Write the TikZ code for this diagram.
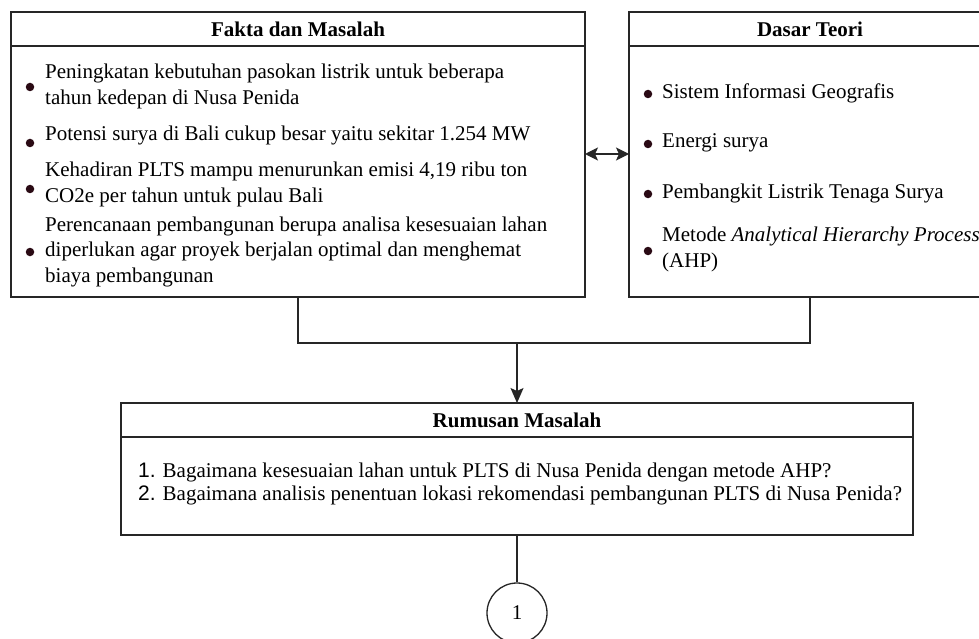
\documentclass[tikz,border=0pt]{standalone}
\usepackage{fontspec}
\setmainfont{Liberation Serif}
\newfontfamily\numfont{Liberation Sans}
\usetikzlibrary{arrows.meta}
\definecolor{bulletc}{HTML}{2A0A14}
\tikzset{
  box/.style={draw=black!85, line width=1.3pt},
  conn/.style={draw=black!85, line width=1.3pt},
  arr/.style={conn, -{Stealth[length=15pt,width=13pt,inset=3pt]}},
  darr/.style={conn, {Stealth[length=13pt,width=13pt,inset=3pt]}-{Stealth[length=13pt,width=13pt,inset=3pt]}},
  title/.style={font=\fontsize{21}{24}\selectfont\bfseries, inner sep=0pt},
  item/.style={font=\fontsize{21}{25.5}\selectfont, anchor=west, align=left, inner sep=0pt},
  bul/.style={circle, fill=bulletc, inner sep=0pt, minimum size=8.5pt},
  conn1/.style={circle, draw=black!85, line width=1.3pt, minimum size=60pt, inner sep=0pt, font=\fontsize{21}{24}\selectfont}
}
\begin{document}
\begin{tikzpicture}[x=1pt,y=-1pt]
\clip (0,0) rectangle (979,639);
\fill[white] (0,0) rectangle (979,639);
% Fakta box
\draw[box] (11,12) rectangle (585,297);
\draw[box] (11,46) -- (585,46);
\node[title] (fakta) at (298,29) {Fakta dan Masalah};
\coordinate (faktaR) at (585,154);
\coordinate (faktaB) at (298,297);
\node[item] (f1) at (45,86.5) {Peningkatan kebutuhan pasokan listrik untuk beberapa\\tahun kedepan di Nusa Penida};
\node[item] (f2) at (45,135) {Potensi surya di Bali cukup besar yaitu sekitar 1.254 MW};
\node[item] (f3) at (45,184.5) {Kehadiran PLTS mampu menurunkan emisi 4,19 ribu ton\\CO2e per tahun untuk pulau Bali};
\node[item] (f4) at (45,251.5) {Perencanaan pembangunan berupa analisa kesesuaian lahan\\diperlukan agar proyek berjalan optimal dan menghemat\\biaya pembangunan};
\node[bul] (b1) at (30,87) {};
\node[bul] (b2) at (30,143) {};
\node[bul] (b3) at (30,189) {};
\node[bul] (b4) at (30,252) {};
% Dasar box
\draw[box] (629,12) rectangle (992,297);
\draw[box] (629,46) -- (992,46);
\node[title] (dasar) at (810,29) {Dasar Teori};
\coordinate (dasarL) at (629,154);
\coordinate (dasarB) at (810,297);
\node[item] (d1) at (662,93) {Sistem Informasi Geografis};
\node[item] (d2) at (662,143) {Energi surya};
\node[item] (d3) at (662,193) {Pembangkit Listrik Tenaga Surya};
\node[item] (d4) at (662,249.5) {Metode \textit{Analytical Hierarchy Process}\\(AHP)};
\node[bul] (c1) at (648,94) {};
\node[bul] (c2) at (648,144) {};
\node[bul] (c3) at (648,194) {};
\node[bul] (c4) at (648,251) {};
% arrow between
\draw[darr] (faktaR) -- (dasarL);
% Rumusan box
\draw[box] (121,403) rectangle (913,535);
\draw[box] (121,437) -- (913,437);
\node[title] (rumusan) at (517,420) {Rumusan Masalah};
\coordinate (rumT) at (517,403);
\coordinate (rumB) at (517,535);
\node[item] (r1) at (138,472) {{\numfont 1.} Bagaimana kesesuaian lahan untuk PLTS di Nusa Penida dengan metode AHP?};
\node[item] (r2) at (138,495) {{\numfont 2.} Bagaimana analisis penentuan lokasi rekomendasi pembangunan PLTS di Nusa Penida?};
% connectors
\coordinate (j1) at (298,343);
\coordinate (j2) at (810,343);
\coordinate (jm) at (517,343);
\draw[conn] (faktaB) -- (j1) -- (j2) -- (dasarB);
\draw[arr] (jm) -- (rumT);
\node[conn1] (one) at (517,613) {1};
\draw[conn] (rumB) -- (one.north);
\end{tikzpicture}
\end{document}
